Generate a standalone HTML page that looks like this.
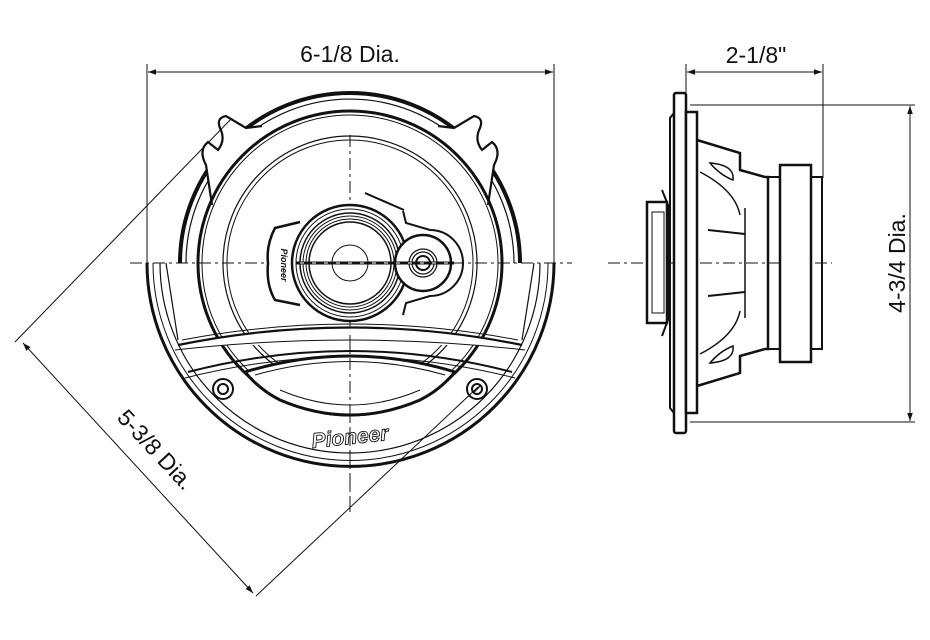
<!DOCTYPE html>
<html><head><meta charset="utf-8"><style>
html,body{margin:0;padding:0;background:#fff;}
svg{display:block;}
text{font-family:"Liberation Sans",sans-serif;fill:#111;}
</style></head><body>
<svg width="930" height="640" viewBox="0 0 930 640" xmlns="http://www.w3.org/2000/svg">
<defs>
<marker id="ar" viewBox="0 0 10 10" refX="10" refY="5" markerWidth="12" markerHeight="8" orient="auto-start-reverse" markerUnits="userSpaceOnUse"><path d="M0,1.5 L10,5 L0,8.5 z" fill="#111"/></marker>
</defs>
<g fill="none" stroke="#111">
<line x1="147" y1="64" x2="147" y2="263" stroke-width="1"/>
<line x1="554" y1="64" x2="554" y2="263" stroke-width="1"/>
<line x1="148" y1="72" x2="553" y2="72" stroke-width="1" marker-start="url(#ar)" marker-end="url(#ar)"/>
<line x1="130" y1="263" x2="572" y2="263" stroke-width="1" stroke-dasharray="12,4,3,4"/>
<line x1="350" y1="135" x2="350" y2="512" stroke-width="1" stroke-dasharray="12,4,3,4"/>
<path d="M180,263 A170,170 0 0 1 520,263" stroke-width="4"/>
<path d="M186,263 A164,164 0 0 1 514,263" stroke-width="1.2"/>
<path d="M212,205 L206,165 Q198,150 208,142 L218,150 Q226,140 220,128 Q216,118 226,116 L246,128 L262,126" stroke-width="2.2" fill="#fff"/>
<path d="M488,205 L494,165 Q502,150 492,142 L482,150 Q474,140 480,128 Q484,118 474,116 L454,128 L438,126" stroke-width="2.2" fill="#fff"/>
<circle cx="350" cy="263" r="152" stroke-width="3"/>
<circle cx="350" cy="263" r="148" stroke-width="1"/>
<circle cx="350" cy="263" r="127" stroke-width="1.2"/>
<circle cx="350" cy="263" r="123" stroke-width="1"/>
<path d="M147,263 A203,203 0 0 0 554,263" stroke-width="3"/>
<path d="M153,263 A197,197 0 0 0 548,263" stroke-width="1"/>
<path d="M160,263 A190,190 0 0 0 540,263" stroke-width="1.2"/>
<path d="M166,263 L178,340" stroke-width="1.2"/>
<path d="M534,263 L522,340" stroke-width="1.2"/>
<path d="M178,345 Q350,310 522,345" stroke-width="2.2" fill="#fff"/>
<path d="M182,340 Q350,308 518,340" stroke-width="1"/>
<path d="M175,350 Q350,330 525,350" stroke-width="1"/>
<path d="M188,372 Q350,330 512,372" stroke-width="2"/>
<path d="M185,378 Q350,336 515,378" stroke-width="1"/>
<path d="M245,372 Q350,340 455,372 Q440,390 420,400 Q350,430 280,400 Q260,390 245,372 z" stroke-width="3" fill="#fff"/>
<path d="M255,375 Q350,348 445,375" stroke-width="1"/>
<path d="M280,390 Q350,420 420,390" stroke-width="1"/>
<line x1="350" y1="335" x2="350" y2="512" stroke-width="1" stroke-dasharray="12,4,3,4"/>
<circle cx="223" cy="389" r="10" stroke-width="2"/>
<circle cx="223" cy="389" r="5" stroke-width="2"/>
<circle cx="477" cy="389" r="10" stroke-width="2"/>
<circle cx="477" cy="389" r="5" stroke-width="2"/>
<line x1="473" y1="393" x2="481" y2="385" stroke-width="1.5"/>
<path d="M365,193 L404,210" stroke-width="2"/>
<path d="M403,211 L406,223 L430,230 A28,28 0 0 1 430,296 L406,303 L403,315" stroke-width="2"/>
<path d="M300,222 L275,228 Q266,245 268,263 Q266,285 275,300 L300,305" stroke-width="2.5" fill="#fff"/>
<circle cx="350" cy="263" r="58" stroke-width="2.5" fill="#fff"/>
<circle cx="350" cy="263" r="54" stroke-width="1"/>
<circle cx="350" cy="263" r="50" stroke-width="1.5"/>
<circle cx="350" cy="263" r="47" stroke-width="1"/>
<circle cx="350" cy="263" r="44" stroke-width="1"/>
<circle cx="350" cy="263" r="41" stroke-width="1.5"/>
<circle cx="350" cy="263" r="18" stroke-width="1"/>
<circle cx="423" cy="263" r="28" stroke-width="2.5" fill="#fff"/>
<circle cx="423" cy="263" r="14" stroke-width="1.2"/>
<circle cx="423" cy="263" r="11" stroke-width="1.2"/>
<circle cx="423" cy="263" r="7" stroke-width="2"/>
<line x1="296" y1="263" x2="454" y2="263" stroke-width="3"/>
<line x1="300" y1="263" x2="450" y2="263" stroke-width="1" stroke="#fff" stroke-dasharray="4,8"/>
<line x1="15" y1="342" x2="232" y2="118" stroke-width="1"/>
<line x1="256" y1="596" x2="478" y2="387" stroke-width="1"/>
<line x1="23" y1="343" x2="253" y2="593" stroke-width="1" marker-start="url(#ar)" marker-end="url(#ar)"/>
<line x1="608" y1="263" x2="832" y2="263" stroke-width="1" stroke-dasharray="12,4,3,4"/>
<line x1="686" y1="64" x2="686" y2="95" stroke-width="1"/>
<line x1="823" y1="64" x2="823" y2="178" stroke-width="1"/>
<line x1="687" y1="72" x2="822" y2="72" stroke-width="1" marker-start="url(#ar)" marker-end="url(#ar)"/>
<line x1="690" y1="105" x2="915" y2="105" stroke-width="1"/>
<line x1="690" y1="422" x2="915" y2="422" stroke-width="1"/>
<line x1="910" y1="106" x2="910" y2="421" stroke-width="1" marker-start="url(#ar)" marker-end="url(#ar)"/>
<rect x="674" y="93" width="12" height="340" rx="2" stroke-width="2.5" fill="#fff"/>
<path d="M674,113 L670,118 L670,408 L674,413" stroke-width="2"/>
<rect x="686" y="112" width="11" height="301" stroke-width="2.5" fill="#fff"/>
<path d="M697,140 L740,153 L740,170 L765,177 L768,177 L768,349 L765,349 L740,356 L740,373 L697,386" stroke-width="2.5"/>
<rect x="768" y="177" width="12" height="172" stroke-width="2"/>
<rect x="780" y="165" width="31" height="197" stroke-width="2.5" fill="#fff"/>
<rect x="811" y="177" width="11" height="172" stroke-width="2"/>
<path d="M700,172 Q735,190 740,215 M700,354 Q735,336 740,311" stroke-width="1.5"/>
<path d="M710,163 Q735,165 733,180 Q720,175 710,163 z M710,363 Q735,361 733,346 Q720,351 710,363 z" stroke-width="1.5"/>
<line x1="708" y1="230" x2="745" y2="234" stroke-width="2"/>
<line x1="708" y1="296" x2="745" y2="292" stroke-width="2"/>
<line x1="745" y1="208" x2="745" y2="318" stroke-width="1.5"/>
<path d="M662,190 L668,205 L668,320 L662,336" stroke-width="2"/>
<rect x="647" y="202" width="20" height="121" stroke-width="2.5" fill="#fff"/>
<rect x="652" y="212" width="12" height="101" stroke-width="1"/>
</g>
<text x="350" y="62" font-size="23" text-anchor="middle">6-1/8 Dia.</text>
<text x="756" y="63" font-size="23" text-anchor="middle">2-1/8"</text>
<text transform="translate(905,263) rotate(-90)" font-size="23" text-anchor="middle">4-3/4 Dia.</text>
<text transform="translate(150,455) rotate(47)" font-size="23" text-anchor="middle">5-3/8 Dia.</text>
<text x="350" y="444" font-size="21" font-style="italic" font-weight="bold" text-anchor="middle" style="fill:#fff" stroke="#111" stroke-width="0.9" transform="rotate(-6 350 437)">Pioneer</text>
<text transform="translate(281,265) rotate(90)" font-size="9" font-style="italic" font-weight="bold" text-anchor="middle">Pioneer</text>
</svg>
</body></html>
